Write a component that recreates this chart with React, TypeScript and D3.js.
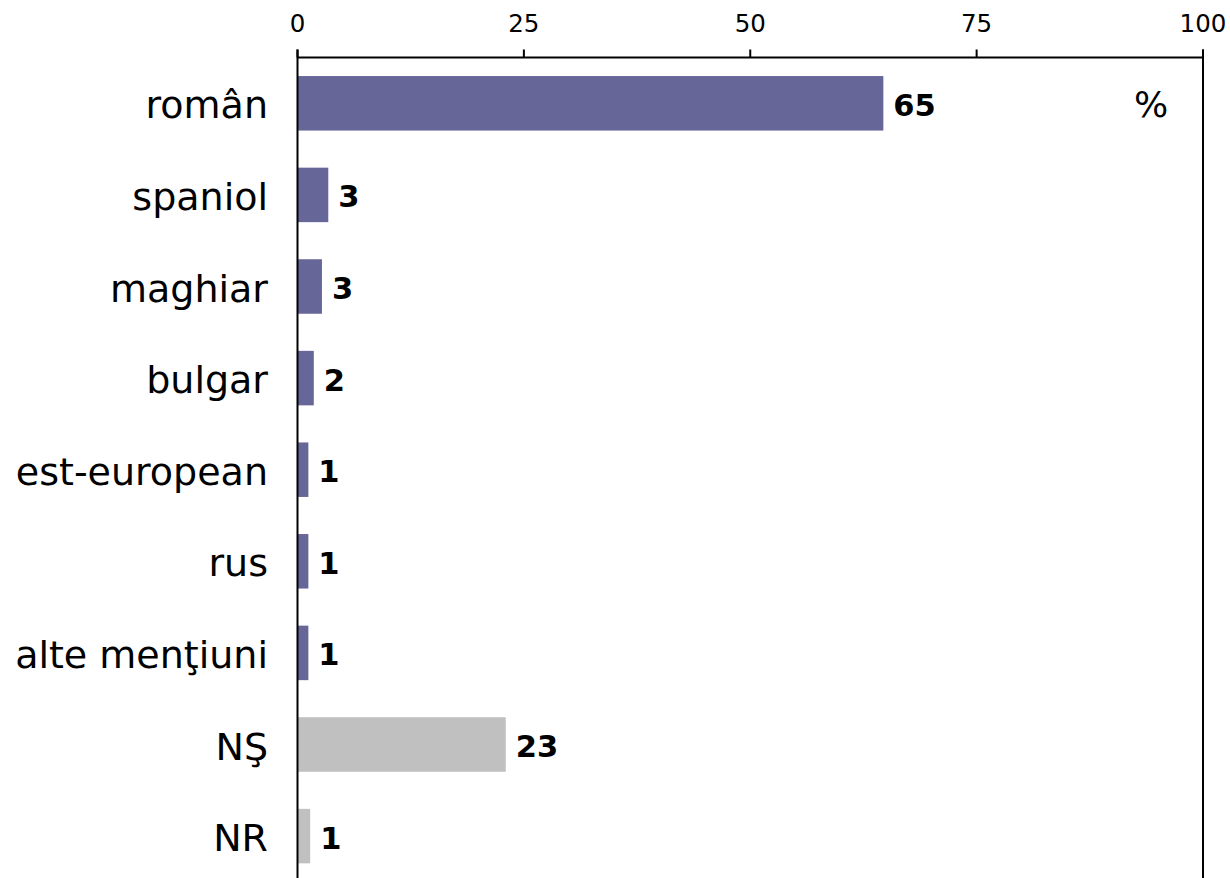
import React from "react";
import * as d3 from "d3";

const categories = ["român", "spaniol", "maghiar", "bulgar", "est-european", "rus", "alte menţiuni", "NŞ", "NR"];
const values = [64.7, 3.4, 2.7, 1.8, 1.2, 1.2, 1.2, 23, 1.4];
const labels = ["65", "3", "3", "2", "1", "1", "1", "23", "1"];
const colors = ["#666699", "#666699", "#666699", "#666699", "#666699", "#666699", "#666699", "#C0C0C0", "#C0C0C0"];
const xTicks = [0, 25, 50, 75, 100];

const W = 1230;
const H = 878;
const left = 297.5;
const right = 1203;
const top = 57.5;
const step = 91.6;

export default function App() {
  const x = d3.scaleLinear().domain([0, 100]).range([left, right]);
  const y = d3
    .scaleBand<string>()
    .domain(categories)
    .range([top, top + step * categories.length])
    .paddingInner(0.405)
    .paddingOuter(0.2025);
  const font = "'DejaVu Sans', Verdana, sans-serif";
  return (
    <svg
      width={W}
      height={H}
      style={{ position: "absolute", left: 0, top: 0, background: "#fff" }}
      fontFamily={font}
    >
      {categories.map((c, i) => (
        <rect
          key={c}
          x={x(0)}
          y={y(c)!}
          width={x(values[i]) - x(0)}
          height={y.bandwidth()}
          fill={colors[i]}
        />
      ))}
      <line x1={left} x2={right} y1={top} y2={top} stroke="#000" strokeWidth={2} />
      <line x1={left} x2={left} y1={top - 8} y2={H + 10} stroke="#000" strokeWidth={2} />
      <line x1={right} x2={right} y1={top - 8} y2={H + 10} stroke="#000" strokeWidth={2} />
      {xTicks.map((t) => (
        <g key={t}>
          <line x1={x(t)} x2={x(t)} y1={top - 8} y2={top} stroke="#000" strokeWidth={2} />
          <text x={x(t)} y={32} textAnchor="middle" fontSize={24.5} fill="#000">
            {t}
          </text>
        </g>
      ))}
      {categories.map((c) => (
        <text
          key={"c" + c}
          x={268}
          y={y(c)! + y.bandwidth() / 2 + 15}
          textAnchor="end"
          fontSize={38}
          fill="#000"
        >
          {c}
        </text>
      ))}
      {categories.map((c, i) => (
        <text
          key={"v" + c}
          x={x(values[i]) + 10}
          y={y(c)! + y.bandwidth() / 2 + 12.5}
          fontSize={30.5}
          fontWeight="bold"
          fill="#000"
        >
          {labels[i]}
        </text>
      ))}
      <text x={1134} y={117} fontSize={36} fill="#000">
        %
      </text>
    </svg>
  );
}
